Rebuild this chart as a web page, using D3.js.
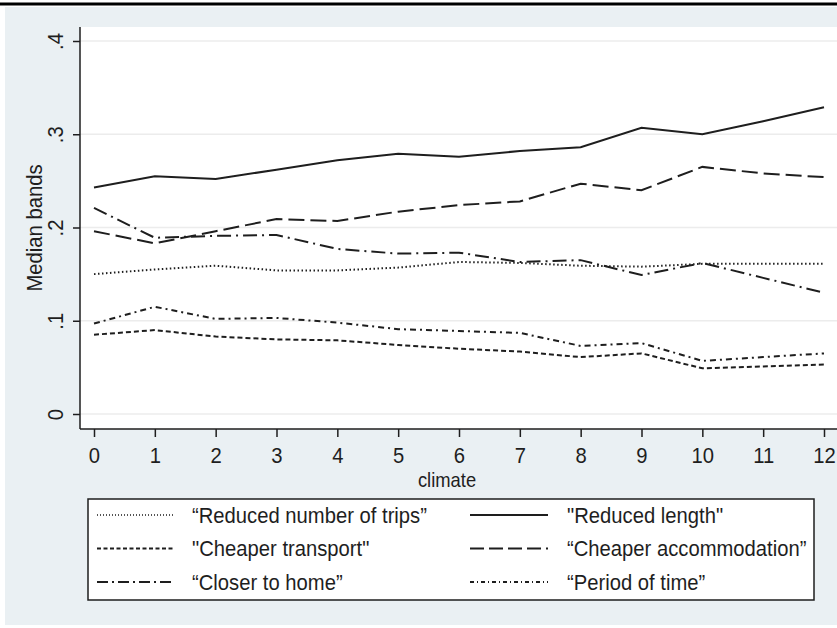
<!DOCTYPE html>
<html>
<head>
<meta charset="utf-8">
<script src="https://cdn.jsdelivr.net/npm/d3@7"></script>
<style>
  body { margin: 0; background: #fff; }
  svg { display: block; font-family: "Liberation Sans", Arial, sans-serif; }
</style>
</head>
<body>
<svg id="chart" width="837" height="628"></svg>
<script>
// data
const climate = [0, 1, 2, 3, 4, 5, 6, 7, 8, 9, 10, 11, 12];
const reducedTrips   = [.150, .155, .159, .154, .154, .157, .163, .162, .159, .158, .161, .161, .161];
const reducedLength  = [.243, .255, .252, .262, .272, .279, .276, .282, .286, .307, .300, .314, .329];
const cheaperTransport = [.085, .090, .083, .080, .079, .074, .070, .067, .061, .065, .049, .051, .053];
const cheaperAccomm  = [.196, .183, .196, .209, .207, .217, .224, .228, .247, .240, .265, .258, .254];
const closerHome     = [.221, .189, .191, .192, .177, .172, .173, .163, .165, .149, .162, .146, .130];
const periodTime     = [.097, .115, .102, .103, .098, .091, .089, .087, .073, .076, .057, .061, .065];
const yTicks = [0, .1, .2, .3, .4];
const yTickLabels = ["0", ".1", ".2", ".3", ".4"];

const series = [
  { name: "\u201CReduced number of trips\u201D", values: reducedTrips, dash: "1.5,2.5" },
  { name: "\"Reduced length\"", values: reducedLength, dash: null },
  { name: "\"Cheaper transport\"", values: cheaperTransport, dash: "5,3" },
  { name: "\u201CCheaper accommodation\u201D", values: cheaperAccomm, dash: "16,6" },
  { name: "\u201CCloser to home\u201D", values: closerHome, dash: "14,5,2,5" },
  { name: "\u201CPeriod of time\u201D", values: periodTime, dash: "6,4,2,4" }
];

const svg = d3.select("#chart");
const ink = "#1e1e1e";
const squeeze = 0.92; // the stata export looks a bit condensed

// page + graph region backgrounds
svg.append("rect").attr("x", 0).attr("y", 0).attr("width", 837).attr("height", 628).attr("fill", "#fff");
svg.append("rect").attr("x", 5).attr("y", 7).attr("width", 832).attr("height", 618).attr("fill", "#eaf0f3");
svg.append("line").attr("x1", 0).attr("x2", 837).attr("y1", 4).attr("y2", 4)
  .attr("stroke", "#000").attr("stroke-width", 3);

const plot = { left: 80, right: 837, top: 27, bottom: 429 };
svg.append("rect").attr("x", plot.left).attr("y", plot.top)
  .attr("width", plot.right - plot.left).attr("height", plot.bottom - plot.top).attr("fill", "#fff");

const x = d3.scaleLinear().domain([0, 12]).range([94, 824]);
const y = d3.scaleLinear().domain([0, .4]).range([414, 41]);

// gridlines
svg.append("g").selectAll("line").data(yTicks).join("line")
  .attr("x1", plot.left).attr("x2", plot.right)
  .attr("y1", d => y(d)).attr("y2", d => y(d))
  .attr("stroke", "#ececec").attr("stroke-width", 1.5);

// y axis
const yAxis = svg.append("g").attr("transform", `translate(${plot.left},0)`)
  .call(d3.axisLeft(y).tickValues(yTicks).tickSize(7).tickFormat((d, i) => yTickLabels[i]));
yAxis.select(".domain").attr("d", `M0,${plot.top}V${plot.bottom}`).attr("stroke", ink).attr("stroke-width", 1.5);
yAxis.selectAll(".tick line").attr("stroke", ink).attr("stroke-width", 1.5);
yAxis.selectAll(".tick text")
  .attr("x", null).attr("dy", null)
  .attr("transform", `translate(-17,0) rotate(-90) scale(${squeeze},1)`)
  .attr("text-anchor", "middle")
  .attr("font-size", 22).attr("font-family", "Liberation Sans, Arial, sans-serif")
  .attr("fill", ink);

// x axis
const xAxis = svg.append("g").attr("transform", `translate(0,${plot.bottom})`)
  .call(d3.axisBottom(x).tickValues(climate).tickSize(8).tickFormat(d3.format("d")));
xAxis.select(".domain").attr("d", `M${plot.left},0H${plot.right}`).attr("stroke", ink).attr("stroke-width", 1.5);
xAxis.selectAll(".tick line").attr("stroke", ink).attr("stroke-width", 1.5);
xAxis.selectAll(".tick text")
  .attr("y", null).attr("dy", null)
  .attr("transform", `translate(0,34) scale(${squeeze},1)`)
  .attr("font-size", 22).attr("font-family", "Liberation Sans, Arial, sans-serif")
  .attr("fill", ink);

// axis titles
svg.append("text").attr("transform", `translate(447,487) scale(${squeeze},1)`).attr("text-anchor", "middle")
  .attr("font-size", 20).attr("fill", ink).text("climate");
svg.append("text").attr("transform", `translate(34,228) rotate(-90) scale(${squeeze},1)`)
  .attr("text-anchor", "middle").attr("dominant-baseline", "central")
  .attr("font-size", 22).attr("fill", ink).text("Median bands");

// lines
const line = d3.line().x((d, i) => x(climate[i])).y(d => y(d));
svg.append("g").selectAll("path").data(series).join("path")
  .attr("d", d => line(d.values))
  .attr("fill", "none").attr("stroke", ink)
  .attr("stroke-width", 2)
  .attr("stroke-dasharray", d => d.dash);

// legend
const legend = svg.append("g");
legend.append("rect").attr("x", 88).attr("y", 499).attr("width", 726).attr("height", 101)
  .attr("fill", "#fff").attr("stroke", ink).attr("stroke-width", 1.5);
const legendDash = ["1,2", null, "4,2.5", "14,5", "11,4,2,4", "4,3,1,3"];
const items = legend.selectAll("g").data(series).join("g")
  .attr("transform", (d, i) => `translate(${i % 2 ? 470 : 97},${515 + Math.floor(i / 2) * 33.5})`);
items.append("line").attr("x1", 0).attr("x2", (d, i) => i % 2 ? 78 : 76)
  .attr("stroke", ink).attr("stroke-width", (d, i) => i === 0 ? 1.3 : 2)
  .attr("stroke-dasharray", (d, i) => legendDash[i]);
items.append("text")
  .attr("transform", (d, i) => `translate(${i % 2 ? 97 : 95},0) scale(${squeeze},1)`)
  .attr("dy", "0.35em")
  .attr("font-size", 22).attr("fill", ink).text(d => d.name);
</script>
</body>
</html>
